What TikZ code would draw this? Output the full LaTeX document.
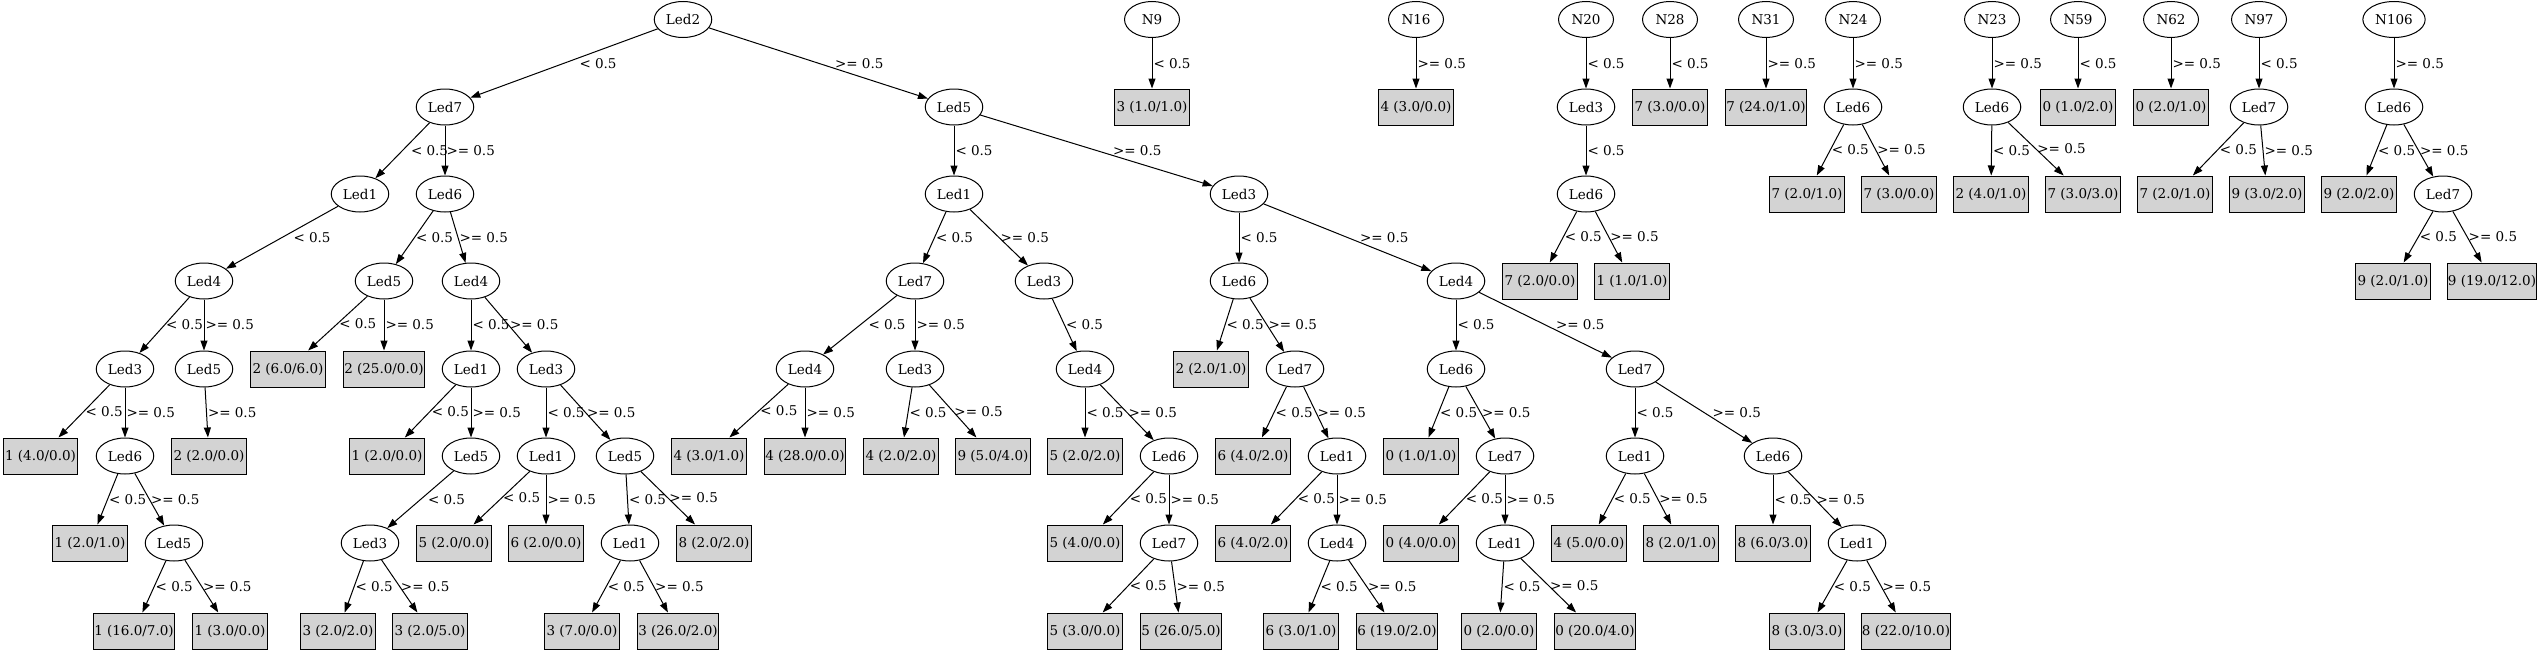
\documentclass[tikz,border=0pt]{standalone}
\usepackage{fontspec}
\setmainfont{DejaVu Serif}
\usepackage{tikz}
\usetikzlibrary{arrows.meta,shapes.geometric}
\usepackage{xcolor}
\definecolor{leafgray}{RGB}{211,211,211}
\newcommand{\treefont}{\fontsize{13.5}{16}\selectfont}
\tikzstyle{arrow} = [line width=1pt,-{Triangle[length=10pt,width=7pt]},color=black]
\tikzstyle{split} = [ellipse, draw=black, line width=1pt, minimum width=55pt, minimum height=36pt, inner xsep=3.25pt, inner ysep=0pt, font=\treefont]
\tikzstyle{leaf} = [rectangle, draw=black, fill=leafgray, line width=1pt, minimum width=74.3pt, minimum height=36pt, inner xsep=0.8pt, inner ysep=0pt, font=\treefont]
\tikzstyle{cond} = [anchor=west, inner sep=0pt, xshift=1pt, font=\treefont]

\begin{document}
\begin{tikzpicture}[x=1pt, y=-1pt]
\useasboundingbox (0,0) rectangle (2540,653);
% Main tree as nodes
\node (t) [split] at (683,19.5) {Led2};
\node (tl) [split] at (445,107) {Led7};
\node (tr) [split] at (954,107) {Led5};
\node (tll) [split] at (360,194) {Led1};
\node (tlr) [split] at (445,194) {Led6};
\node (tlll) [split] at (204,281) {Led4};
\node (tlrl) [split] at (384,281) {Led5};
\node (tlrr) [split] at (471,281) {Led4};
\node (tllll) [split] at (125,369) {Led3};
\node (tlllr) [split] at (204,369) {Led5};
\node (tlrll) [leaf] at (288,369) {2 (6.0/6.0)};
\node (tlrlr) [leaf] at (384,369) {2 (25.0/0.0)};
\node (tlrrl) [split] at (471,369) {Led1};
\node (tlrrr) [split] at (546,369) {Led3};
\node (tlllll) [leaf] at (40.5,456) {1 (4.0/0.0)};
\node (tllllr) [split] at (125,456) {Led6};
\node (tlllrr) [leaf] at (209,456) {2 (2.0/0.0)};
\node (tlrrll) [leaf] at (387,456) {1 (2.0/0.0)};
\node (tlrrlr) [split] at (471,456) {Led5};
\node (tlrrrl) [split] at (546,456) {Led1};
\node (tlrrrr) [split] at (625,456) {Led5};
\node (tllllrl) [leaf] at (90,543) {1 (2.0/1.0)};
\node (tllllrr) [split] at (174,543) {Led5};
\node (tlrrlrl) [split] at (370,543) {Led3};
\node (tlrrrll) [leaf] at (454,543) {5 (2.0/0.0)};
\node (tlrrrlr) [leaf] at (546,543) {6 (2.0/0.0)};
\node (tlrrrrl) [split] at (630,543) {Led1};
\node (tlrrrrr) [leaf] at (714,543) {8 (2.0/2.0)};
\node (tllllrrl) [leaf] at (134,631) {1 (16.0/7.0)};
\node (tllllrrr) [leaf] at (230,631) {1 (3.0/0.0)};
\node (tlrrlrll) [leaf] at (338,631) {3 (2.0/2.0)};
\node (tlrrlrlr) [leaf] at (430,631) {3 (2.0/5.0)};
\node (tlrrrrll) [leaf] at (582,631) {3 (7.0/0.0)};
\node (tlrrrrlr) [leaf] at (678,631) {3 (26.0/2.0)};

\node (trl) [split] at (954,194) {Led1};
\node (trr) [split] at (1239,194) {Led3};
\node (trll) [split] at (915,281) {Led7};
\node (trlr) [split] at (1044,281) {Led3};
\node (trrl) [split] at (1239,281) {Led6};
\node (trrr) [split] at (1456,281) {Led4};
\node (trlll) [split] at (805,369) {Led4};
\node (trllr) [split] at (915,369) {Led3};
\node (trlrl) [split] at (1085,369) {Led4};
\node (trrll) [leaf] at (1211,369) {2 (2.0/1.0)};
\node (trrlr) [split] at (1295,369) {Led7};
\node (trrrl) [split] at (1456,369) {Led6};
\node (trrrr) [split] at (1635,369) {Led7};
\node (trllll) [leaf] at (709,456) {4 (3.0/1.0)};
\node (trlllr) [leaf] at (805,456) {4 (28.0/0.0)};
\node (trllrl) [leaf] at (901,456) {4 (2.0/2.0)};
\node (trllrr) [leaf] at (993,456) {9 (5.0/4.0)};
\node (trlrll) [leaf] at (1085,456) {5 (2.0/2.0)};
\node (trlrlr) [split] at (1169,456) {Led6};
\node (trrlrl) [leaf] at (1253,456) {6 (4.0/2.0)};
\node (trrlrr) [split] at (1337,456) {Led1};
\node (trrrll) [leaf] at (1421,456) {0 (1.0/1.0)};
\node (trrrlr) [split] at (1505,456) {Led7};
\node (trrrrl) [split] at (1635,456) {Led1};
\node (trrrrr) [split] at (1773,456) {Led6};
\node (trlrlrl) [leaf] at (1085,543) {5 (4.0/0.0)};
\node (trlrlrr) [split] at (1169,543) {Led7};
\node (trrlrrl) [leaf] at (1253,543) {6 (4.0/2.0)};
\node (trrlrrr) [split] at (1337,543) {Led4};
\node (trrrlrl) [leaf] at (1421,543) {0 (4.0/0.0)};
\node (trrrlrr) [split] at (1505,543) {Led1};
\node (trrrrll) [leaf] at (1589,543) {4 (5.0/0.0)};
\node (trrrrlr) [leaf] at (1681,543) {8 (2.0/1.0)};
\node (trrrrrl) [leaf] at (1773,543) {8 (6.0/3.0)};
\node (trrrrrr) [split] at (1857,543) {Led1};
\node (trlrlrrl) [leaf] at (1085,631) {5 (3.0/0.0)};
\node (trlrlrrr) [leaf] at (1181,631) {5 (26.0/5.0)};
\node (trrlrrrl) [leaf] at (1301,631) {6 (3.0/1.0)};
\node (trrlrrrr) [leaf] at (1397,631) {6 (19.0/2.0)};
\node (trrrlrrl) [leaf] at (1499,631) {0 (2.0/0.0)};
\node (trrrlrrr) [leaf] at (1595,631) {0 (20.0/4.0)};
\node (trrrrrrl) [leaf] at (1807,631) {8 (3.0/3.0)};
\node (trrrrrrr) [leaf] at (1906,631) {8 (22.0/10.0)};

% Small trees as nodes
\node (n9) [split] at (1152,19.5) {N9};
\node (n9l) [leaf] at (1152,107) {3 (1.0/1.0)};
\node (n16) [split] at (1416,19.5) {N16};
\node (n16r) [leaf] at (1416,107) {4 (3.0/0.0)};
\node (n20) [split] at (1586,19.5) {N20};
\node (n20l) [split] at (1586,107) {Led3};
\node (n20ll) [split] at (1586,194) {Led6};
\node (n20lll) [leaf] at (1540,281) {7 (2.0/0.0)};
\node (n20llr) [leaf] at (1632,281) {1 (1.0/1.0)};
\node (n28) [split] at (1670,19.5) {N28};
\node (n28l) [leaf] at (1670,107) {7 (3.0/0.0)};
\node (n31) [split] at (1766,19.5) {N31};
\node (n31r) [leaf] at (1766,107) {7 (24.0/1.0)};
\node (n24) [split] at (1853,19.5) {N24};
\node (n24r) [split] at (1853,107) {Led6};
\node (n24rl) [leaf] at (1807,194) {7 (2.0/1.0)};
\node (n24rr) [leaf] at (1899,194) {7 (3.0/0.0)};
\node (n23) [split] at (1992,19.5) {N23};
\node (n23r) [split] at (1992,107) {Led6};
\node (n23rl) [leaf] at (1991,194) {2 (4.0/1.0)};
\node (n23rr) [leaf] at (2083,194) {7 (3.0/3.0)};
\node (n59) [split] at (2078,19.5) {N59};
\node (n59l) [leaf] at (2078,107) {0 (1.0/2.0)};
\node (n62) [split] at (2171,19.5) {N62};
\node (n62r) [leaf] at (2171,107) {0 (2.0/1.0)};
\node (n97) [split] at (2259,19.5) {N97};
\node (n97l) [split] at (2259,107) {Led7};
\node (n97ll) [leaf] at (2175,194) {7 (2.0/1.0)};
\node (n97lr) [leaf] at (2267,194) {9 (3.0/2.0)};
\node (n106) [split] at (2394,19.5) {N106};
\node (n106r) [split] at (2394,107) {Led6};
\node (n106rl) [leaf] at (2359,194) {9 (2.0/2.0)};
\node (n106rr) [split] at (2443,194) {Led7};
\node (n106rrl) [leaf] at (2393,281) {9 (2.0/1.0)};
\node (n106rrr) [leaf] at (2492,281) {9 (19.0/12.0)};

% Arrows
\draw[arrow] (t) -- node[cond, xshift=14pt] {< 0.5} (tl);
\draw[arrow] (t) -- node[cond, xshift=15pt] {>= 0.5} (tr);
\draw[arrow] (tl) -- node[cond, xshift=7pt] {< 0.5} (tll);
\draw[arrow] (tl) -- node[cond] {>= 0.5} (tlr);
\draw[arrow] (tll) -- node[cond, xshift=10pt] {< 0.5} (tlll);
\draw[arrow] (tlr) -- node[cond] {< 0.5} (tlrl);
\draw[arrow] (tlr) -- node[cond] {>= 0.5} (tlrr);
\draw[arrow] (tlll) -- node[cond] {< 0.5} (tllll);
\draw[arrow] (tlll) -- node[cond] {>= 0.5} (tlllr);
\draw[arrow] (tlrl) -- node[cond] {< 0.5} (tlrll);
\draw[arrow] (tlrl) -- node[cond] {>= 0.5} (tlrlr);
\draw[arrow] (tlrr) -- node[cond] {< 0.5} (tlrrl);
\draw[arrow] (tlrr) -- node[cond] {>= 0.5} (tlrrr);
\draw[arrow] (tllll) -- node[cond] {< 0.5} (tlllll);
\draw[arrow] (tllll) -- node[cond] {>= 0.5} (tllllr);
\draw[arrow] (tlllr) -- node[cond] {>= 0.5} (tlllrr);
\draw[arrow] (tlrrl) -- node[cond] {< 0.5} (tlrrll);
\draw[arrow] (tlrrl) -- node[cond] {>= 0.5} (tlrrlr);
\draw[arrow] (tlrrr) -- node[cond] {< 0.5} (tlrrrl);
\draw[arrow] (tlrrr) -- node[cond] {>= 0.5} (tlrrrr);
\draw[arrow] (tllllr) -- node[cond] {< 0.5} (tllllrl);
\draw[arrow] (tllllr) -- node[cond] {>= 0.5} (tllllrr);
\draw[arrow] (tlrrlr) -- node[cond, xshift=6pt] {< 0.5} (tlrrlrl);
\draw[arrow] (tlrrrl) -- node[cond] {< 0.5} (tlrrrll);
\draw[arrow] (tlrrrl) -- node[cond] {>= 0.5} (tlrrrlr);
\draw[arrow] (tlrrrr) -- node[cond] {< 0.5} (tlrrrrl);
\draw[arrow] (tlrrrr) -- node[cond] {>= 0.5} (tlrrrrr);
\draw[arrow] (tllllrr) -- node[cond] {< 0.5} (tllllrrl);
\draw[arrow] (tllllrr) -- node[cond] {>= 0.5} (tllllrrr);
\draw[arrow] (tlrrlrl) -- node[cond] {< 0.5} (tlrrlrll);
\draw[arrow] (tlrrlrl) -- node[cond] {>= 0.5} (tlrrlrlr);
\draw[arrow] (tlrrrrl) -- node[cond] {< 0.5} (tlrrrrll);
\draw[arrow] (tlrrrrl) -- node[cond] {>= 0.5} (tlrrrrlr);

\draw[arrow] (tr) -- node[cond] {< 0.5} (trl);
\draw[arrow] (tr) -- node[cond, xshift=15pt] {>= 0.5} (trr);
\draw[arrow] (trl) -- node[cond] {< 0.5} (trll);
\draw[arrow] (trl) -- node[cond] {>= 0.5} (trlr);
\draw[arrow] (trr) -- node[cond] {< 0.5} (trrl);
\draw[arrow] (trr) -- node[cond, xshift=11pt] {>= 0.5} (trrr);
\draw[arrow] (trll) -- node[cond, xshift=7pt] {< 0.5} (trlll);
\draw[arrow] (trll) -- node[cond] {>= 0.5} (trllr);
\draw[arrow] (trlr) -- node[cond] {< 0.5} (trlrl);
\draw[arrow] (trrl) -- node[cond] {< 0.5} (trrll);
\draw[arrow] (trrl) -- node[cond] {>= 0.5} (trrlr);
\draw[arrow] (trrr) -- node[cond] {< 0.5} (trrrl);
\draw[arrow] (trrr) -- node[cond, xshift=9pt] {>= 0.5} (trrrr);
\draw[arrow] (trlll) -- node[cond] {< 0.5} (trllll);
\draw[arrow] (trlll) -- node[cond] {>= 0.5} (trlllr);
\draw[arrow] (trllr) -- node[cond] {< 0.5} (trllrl);
\draw[arrow] (trllr) -- node[cond] {>= 0.5} (trllrr);
\draw[arrow] (trlrl) -- node[cond] {< 0.5} (trlrll);
\draw[arrow] (trlrl) -- node[cond] {>= 0.5} (trlrlr);
\draw[arrow] (trrlr) -- node[cond] {< 0.5} (trrlrl);
\draw[arrow] (trrlr) -- node[cond] {>= 0.5} (trrlrr);
\draw[arrow] (trrrl) -- node[cond] {< 0.5} (trrrll);
\draw[arrow] (trrrl) -- node[cond] {>= 0.5} (trrrlr);
\draw[arrow] (trrrr) -- node[cond] {< 0.5} (trrrrl);
\draw[arrow] (trrrr) -- node[cond, xshift=7pt] {>= 0.5} (trrrrr);
\draw[arrow] (trlrlr) -- node[cond] {< 0.5} (trlrlrl);
\draw[arrow] (trlrlr) -- node[cond] {>= 0.5} (trlrlrr);
\draw[arrow] (trrlrr) -- node[cond] {< 0.5} (trrlrrl);
\draw[arrow] (trrlrr) -- node[cond] {>= 0.5} (trrlrrr);
\draw[arrow] (trrrlr) -- node[cond] {< 0.5} (trrrlrl);
\draw[arrow] (trrrlr) -- node[cond] {>= 0.5} (trrrlrr);
\draw[arrow] (trrrrl) -- node[cond] {< 0.5} (trrrrll);
\draw[arrow] (trrrrl) -- node[cond] {>= 0.5} (trrrrlr);
\draw[arrow] (trrrrr) -- node[cond] {< 0.5} (trrrrrl);
\draw[arrow] (trrrrr) -- node[cond] {>= 0.5} (trrrrrr);
\draw[arrow] (trlrlrr) -- node[cond] {< 0.5} (trlrlrrl);
\draw[arrow] (trlrlrr) -- node[cond] {>= 0.5} (trlrlrrr);
\draw[arrow] (trrlrrr) -- node[cond] {< 0.5} (trrlrrrl);
\draw[arrow] (trrlrrr) -- node[cond] {>= 0.5} (trrlrrrr);
\draw[arrow] (trrrlrr) -- node[cond] {< 0.5} (trrrlrrl);
\draw[arrow] (trrrlrr) -- node[cond] {>= 0.5} (trrrlrrr);
\draw[arrow] (trrrrrr) -- node[cond] {< 0.5} (trrrrrrl);
\draw[arrow] (trrrrrr) -- node[cond] {>= 0.5} (trrrrrrr);

\draw[arrow] (n9) -- node[cond] {< 0.5} (n9l);
\draw[arrow] (n16) -- node[cond] {>= 0.5} (n16r);
\draw[arrow] (n20) -- node[cond] {< 0.5} (n20l);
\draw[arrow] (n20l) -- node[cond] {< 0.5} (n20ll);
\draw[arrow] (n20ll) -- node[cond] {< 0.5} (n20lll);
\draw[arrow] (n20ll) -- node[cond] {>= 0.5} (n20llr);
\draw[arrow] (n28) -- node[cond] {< 0.5} (n28l);
\draw[arrow] (n31) -- node[cond] {>= 0.5} (n31r);
\draw[arrow] (n24) -- node[cond] {>= 0.5} (n24r);
\draw[arrow] (n24r) -- node[cond] {< 0.5} (n24rl);
\draw[arrow] (n24r) -- node[cond] {>= 0.5} (n24rr);
\draw[arrow] (n23) -- node[cond] {>= 0.5} (n23r);
\draw[arrow] (n23r) -- node[cond] {< 0.5} (n23rl);
\draw[arrow] (n23r) -- node[cond] {>= 0.5} (n23rr);
\draw[arrow] (n59) -- node[cond] {< 0.5} (n59l);
\draw[arrow] (n62) -- node[cond] {>= 0.5} (n62r);
\draw[arrow] (n97) -- node[cond] {< 0.5} (n97l);
\draw[arrow] (n97l) -- node[cond] {< 0.5} (n97ll);
\draw[arrow] (n97l) -- node[cond] {>= 0.5} (n97lr);
\draw[arrow] (n106) -- node[cond] {>= 0.5} (n106r);
\draw[arrow] (n106r) -- node[cond] {< 0.5} (n106rl);
\draw[arrow] (n106r) -- node[cond] {>= 0.5} (n106rr);
\draw[arrow] (n106rr) -- node[cond] {< 0.5} (n106rrl);
\draw[arrow] (n106rr) -- node[cond] {>= 0.5} (n106rrr);
\end{tikzpicture}
\end{document}
